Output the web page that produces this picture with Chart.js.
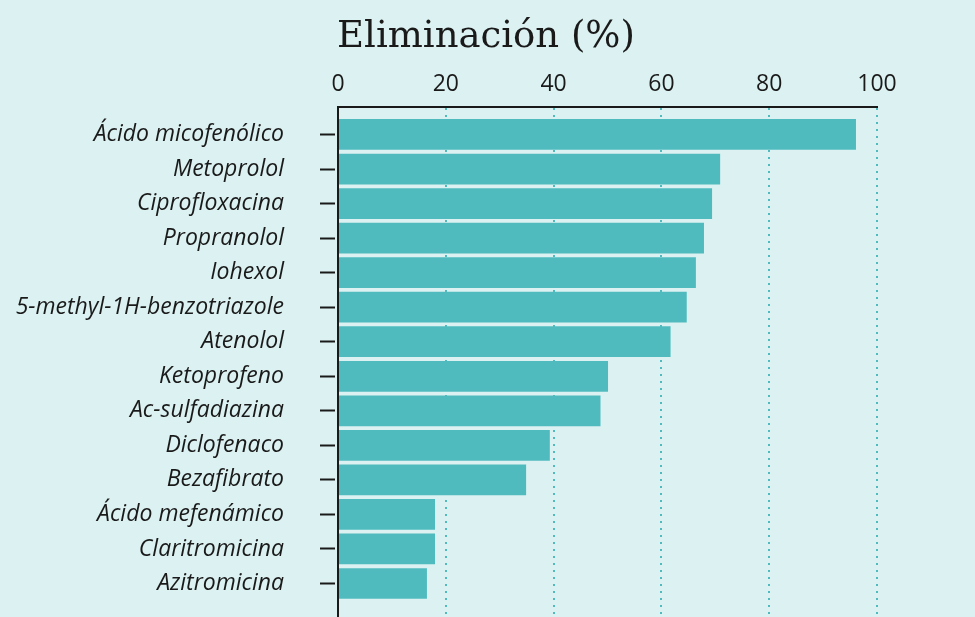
<!DOCTYPE html>
<html>
<head>
<meta charset="utf-8">
<script src="https://cdn.jsdelivr.net/npm/chart.js@4.4.1/dist/chart.umd.min.js"></script>
<style>
  html, body { margin: 0; padding: 0; background: #dcf1f1; }
  #chart { display: block; }
</style>
</head>
<body>
<canvas id="chart" width="975" height="617"></canvas>
<script>
// compounds, top to bottom
const compounds = [
  "Ácido micofenólico",
  "Metoprolol",
  "Ciprofloxacina",
  "Propranolol",
  "Iohexol",
  "5-methyl-1H-benzotriazole",
  "Atenolol",
  "Ketoprofeno",
  "Ac-sulfadiazina",
  "Diclofenaco",
  "Bezafibrato",
  "Ácido mefenámico",
  "Claritromicina",
  "Azitromicina"
]
// removal, %
const removal = [96.1, 70.9, 69.4, 67.9, 66.4, 64.7, 61.7, 50.1, 48.7, 39.3, 34.9, 18.0, 18.0, 16.5]
const xTicks = [0, 20, 40, 60, 80, 100]

const teal = "#50bbbe"
const ink = "#1a1a1a"

const bars = removal.map((v, i) => ({ x: v, y: i }))

new Chart(document.getElementById("chart"), {
  type: "bar",
  data: {
    datasets: [{
      data: bars,
      backgroundColor: teal,
      borderWidth: 0,
      categoryPercentage: 1,
      barPercentage: 0.89
    }]
  },
  options: {
    indexAxis: "y",
    responsive: false,
    animation: false,
    layout: { padding: { left: 0, right: 3, top: 0, bottom: 0 } },
    plugins: {
      legend: { display: false },
      tooltip: { enabled: false },
      title: {
        display: true,
        text: "Eliminación (%)",
        color: ink,
        font: { family: "DejaVu Serif", size: 37, weight: "normal", lineHeight: 1.2 },
        padding: { top: 15, bottom: 0 }
      }
    },
    scales: {
      x: {
        type: "linear",
        position: "top",
        min: 0,
        max: 100,
        afterBuildTicks: (axis) => { axis.ticks = xTicks.map(v => ({ value: v })) },
        afterFit: (scale) => { scale.height = 107 - 15 - 37 * 1.2 },
        ticks: {
          color: ink,
          font: { family: "Open Sans", size: 23 },
          padding: 9
        },
        grid: {
          color: teal,
          lineWidth: 2,
          drawTicks: false
        },
        border: { color: ink, width: 2, dash: [2, 5] }
      },
      y: {
        type: "linear",
        reverse: true,
        offset: false,
        min: -0.796,
        max: 13.97,
        afterBuildTicks: (axis) => { axis.ticks = compounds.map((_, i) => ({ value: i })) },
        afterFit: (scale) => {
          scale.width = 338
          scale.paddingTop = 0
          scale.paddingBottom = 0
        },
        ticks: {
          autoSkip: false,
          color: ink,
          font: { family: "Open Sans", size: 23, style: "italic" },
          padding: 36,
          callback: (value) => compounds[value]
        },
        grid: {
          offset: false,
          drawOnChartArea: false,
          tickLength: 18,
          tickWidth: 2,
          tickColor: ink,
          tickBorderDash: [15, 30]
        },
        border: { color: ink, width: 2 }
      },
      // empty right gutter, keeps the plot area ending at 100
      gutter: {
        type: "linear",
        position: "right",
        display: true,
        afterFit: (scale) => {
          scale.width = 95
          scale.paddingTop = 0
          scale.paddingBottom = 0
        },
        ticks: { display: false },
        grid: { display: false },
        border: { display: false }
      }
    }
  }
})
</script>
</body>
</html>
